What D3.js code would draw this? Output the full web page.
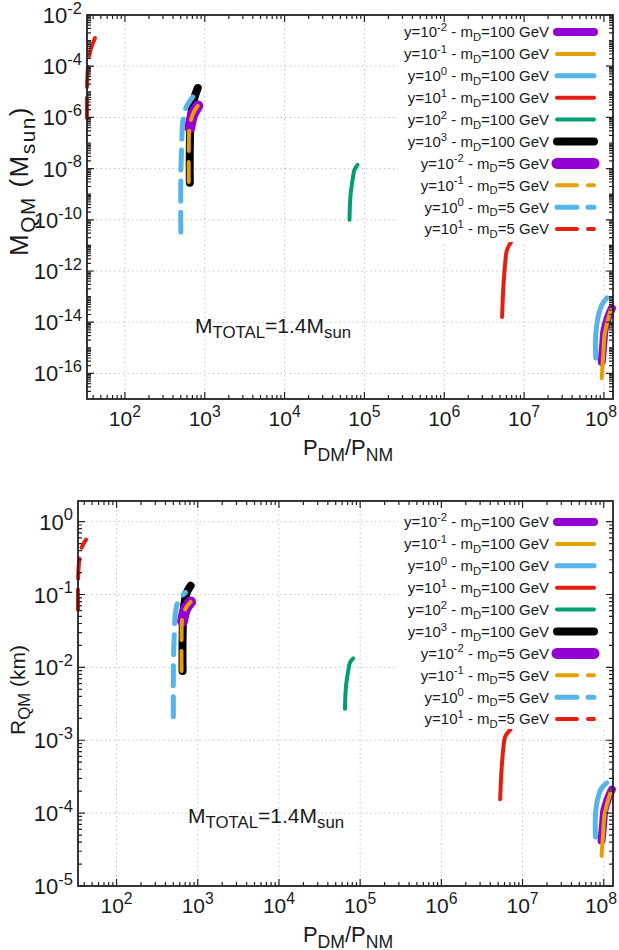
<!DOCTYPE html>
<html>
<head>
<meta charset="utf-8">
<script src="https://cdn.jsdelivr.net/npm/d3@7"></script>
<style>
  body { margin: 0; background: #fff; }
  svg { display: block; font-family: "Liberation Sans", Arial, sans-serif; }
</style>
</head>
<body>
<div id="chart"></div>
<script>
// ---- data (P_DM/P_NM, M_QM in M_sun, R_QM in km), points from bottom to top of each curve ----

// y=1e-2, mD=100 GeV
const p_ym2_100 = [9.4e7, 9.8e7, 1.02e8, 1.12e8, 1.26e8];
const m_ym2_100 = [2.8e-16, 1.3e-15, 5.0e-15, 1.45e-14, 3.5e-14];
const r_ym2_100 = [4.2e-5, 6.9e-5, 1.1e-4, 1.55e-4, 2.1e-4];
// y=1e-1, mD=100 GeV
const p_ym1_100 = [9.4e7, 9.8e7, 1.02e8, 1.12e8, 1.22e8];
const m_ym1_100 = [6.6e-17, 5.2e-16, 3.2e-15, 1.23e-14, 3.0e-14];
const r_ym1_100 = [2.6e-5, 5.1e-5, 9.3e-5, 1.45e-4, 1.95e-4];
// y=1e0, mD=100 GeV
const p_y0_100 = [7.9e7, 7.9e7, 8.4e7, 9.4e7, 1.09e8];
const m_y0_100 = [4.0e-16, 3.2e-15, 1.45e-14, 4.7e-14, 8.9e-14];
const r_y0_100 = [4.7e-5, 9.3e-5, 1.55e-4, 2.2e-4, 2.6e-4];
// y=1e1, mD=100 GeV
const p_y1_100 = [5.3e6, 5.5e6, 5.8e6, 6.1e6, 7.1e6];
const m_y1_100 = [1.6e-14, 2.3e-13, 2.0e-12, 6.6e-12, 1.6e-11];
const r_y1_100 = [1.55e-4, 3.8e-4, 7.8e-4, 1.12e-3, 1.4e-3];
// y=1e2, mD=100 GeV
const p_y2_100 = [6.5e4, 6.7e4, 7.1e4, 7.5e4, 8.2e4];
const m_y2_100 = [1.0e-10, 9.3e-10, 3.5e-9, 8.9e-9, 1.4e-8];
const r_y2_100 = [2.7e-3, 5.6e-3, 8.7e-3, 1.17e-2, 1.33e-2];
// y=1e3, mD=100 GeV
const p_y3_100 = [650, 650, 668, 729, 817];
const m_y3_100 = [2.8e-9, 5.4e-8, 7.9e-7, 4.8e-6, 1.4e-5];
const r_y3_100 = [8.9e-3, 2.4e-2, 5.9e-2, 0.105, 0.132];
// y=1e-2, mD=5 GeV
const p_ym2_5 = [650, 708, 817];
const m_ym2_5 = [3.9e-7, 1.26e-6, 2.8e-6];
const r_ym2_5 = [4.3e-2, 6.3e-2, 7.9e-2];
// y=1e-1, mD=5 GeV
const p_ym1_5 = [631, 631, 650, 729, 817];
const m_ym1_5 = [3.0e-9, 5.4e-8, 5.0e-7, 1.6e-6, 2.8e-6];
const r_ym1_5 = [8.9e-3, 2.4e-2, 5.0e-2, 6.8e-2, 7.9e-2];
// y=1e0, mD=5 GeV
const p_y0_5 = [501, 501, 516, 531, 579, 708];
const m_y0_5 = [3.3e-11, 3.5e-9, 1.3e-7, 6.6e-7, 2.3e-6, 6.3e-6];
const r_y0_5 = [2.1e-3, 1.0e-2, 3.3e-2, 5.6e-2, 8.3e-2, 0.107];
// y=1e1, mD=5 GeV
const p_y1_5 = [33.5, 33.5, 34.5, 36.5, 39.8, 42.2];
const m_y1_5 = [9.5e-7, 1.2e-5, 9.3e-5, 3.5e-4, 8.1e-4, 1.26e-3];
const r_y1_5 = [6.2e-2, 0.141, 0.275, 0.417, 0.513, 0.566];

// legend labels
const yExponents = ["-2", "-1", "0", "1", "2", "3", "-2", "-1", "0", "1"];
const mDValues = ["100", "100", "100", "100", "100", "100", "5", "5", "5", "5"];

// tick values
const xTickValues = [1e2, 1e3, 1e4, 1e5, 1e6, 1e7, 1e8];
const massTickValues = [1e-2, 1e-4, 1e-6, 1e-8, 1e-10, 1e-12, 1e-14, 1e-16];
const radiusTickValues = [1e0, 1e-1, 1e-2, 1e-3, 1e-4, 1e-5];

// styles
const colors = ["#9400d3", "#e69f00", "#56b4e9", "#e51e10", "#009e73", "#000000",
                "#9400d3", "#e69f00", "#56b4e9", "#e51e10"];
const widths = [8, 4, 5, 4, 4, 8, 11, 4, 5, 4];
const dashed = [false, false, false, false, false, false, false, true, true, true];

const pArrays = [p_ym2_100, p_ym1_100, p_y0_100, p_y1_100, p_y2_100, p_y3_100, p_ym2_5, p_ym1_5, p_y0_5, p_y1_5];
const mArrays = [m_ym2_100, m_ym1_100, m_y0_100, m_y1_100, m_y2_100, m_y3_100, m_ym2_5, m_ym1_5, m_y0_5, m_y1_5];
const rArrays = [r_ym2_100, r_ym1_100, r_y0_100, r_y1_100, r_y2_100, r_y3_100, r_ym2_5, r_ym1_5, r_y0_5, r_y1_5];

// write text with super/subscripts: parts = [[string, mode]], mode 1 = sup, -1 = sub
function richText(sel, parts, size, subScale) {
    var shift = 0;
    parts.forEach(function (p) {
        var target = p[1] === 1 ? -0.42 * size : p[1] === -1 ? 0.25 * size : 0;
        sel.append("tspan")
            .attr("dy", target - shift)
            .attr("font-size", p[1] === 0 ? size : size * subScale)
            .text(p[0]);
        shift = target;
    });
}

function drawPanel(svg, cfg) {
    var x = d3.scaleLog().domain([33.5, 1.3e8]).range([cfg.left, cfg.right]);
    var y = d3.scaleLog().domain(cfg.yDomain).range([cfg.bottom, cfg.top]);

    var g = svg.append("g");

    // grid
    g.selectAll(".gx").data(xTickValues).join("line")
        .attr("x1", d => x(d)).attr("x2", d => x(d))
        .attr("y1", cfg.top).attr("y2", cfg.bottom)
        .attr("stroke", "#c4c4c4").attr("stroke-dasharray", "1.5,3");
    g.selectAll(".gy").data(cfg.yTicks.filter(d => y(d) > cfg.top + 1 && y(d) < cfg.bottom - 1)).join("line")
        .attr("x1", cfg.left).attr("x2", cfg.right)
        .attr("y1", d => y(d)).attr("y2", d => y(d))
        .attr("stroke", "#c4c4c4").attr("stroke-dasharray", "1.5,3");

    // curves
    var vals = cfg.key === "m" ? mArrays : rArrays;
    var line = d3.line()
        .x(d => x(d[0])).y(d => y(d[1]))
        .curve(d3.curveCatmullRom.alpha(0.5));
    pArrays.forEach(function (ps, i) {
        var pts = ps.map((p, j) => [p, vals[i][j]]);
        g.append("path")
            .attr("d", line(pts))
            .attr("fill", "none")
            .attr("stroke", colors[i])
            .attr("stroke-width", widths[i])
            .attr("stroke-linecap", "round")
            .attr("stroke-linejoin", "round")
            .attr("stroke-dasharray", dashed[i] ? "20,11" : null);
    });

    // opaque key
    g.append("rect")
        .attr("x", 398).attr("y", cfg.top)
        .attr("width", cfg.right - 398).attr("height", cfg.keyBottom - cfg.top)
        .attr("fill", "#fff");
    yExponents.forEach(function (e, i) {
        var ry = cfg.keyTop + i * 21.9;
        var t = g.append("text")
            .attr("x", 549).attr("y", ry + 5.3)
            .attr("text-anchor", "end")
            .attr("fill", "#1a1a1a");
        richText(t, [["y=10", 0], [e, 1], [" - m", 0], ["D", -1], ["=" + mDValues[i] + " GeV", 0]], 15, 0.75);
        g.append("line")
            .attr("x1", 557).attr("x2", 594)
            .attr("y1", ry).attr("y2", ry)
            .attr("stroke", colors[i])
            .attr("stroke-width", widths[i])
            .attr("stroke-linecap", "round")
            .attr("stroke-dasharray", dashed[i] ? "20,11" : null);
    });

    // ticks (inward, mirrored)
    var xMinor = [];
    for (var k = 1; k <= 8; k++) for (var m = 2; m <= 9; m++) xMinor.push(m * Math.pow(10, k));
    xMinor = xMinor.filter(d => x(d) > cfg.left && x(d) < cfg.right);
    var yMinor = [];
    for (var k2 = -17; k2 <= 0; k2++) for (var m2 = (cfg.key === "m" && k2 % 2 !== 0 ? 1 : 2); m2 <= 9; m2++)
        yMinor.push(m2 * Math.pow(10, k2));
    yMinor = yMinor.filter(d => y(d) > cfg.top && y(d) < cfg.bottom);

    var tk = g.append("g").attr("stroke", "#222").attr("stroke-width", 1.2);
    [[xTickValues, 7], [xMinor, 4]].forEach(function (s) {
        tk.selectAll(null).data(s[0]).join("path")
            .attr("d", d => "M" + x(d) + "," + cfg.bottom + "v" + (-s[1]) +
                "M" + x(d) + "," + cfg.top + "v" + s[1]);
    });
    [[cfg.yTicks, 7], [yMinor, 4]].forEach(function (s) {
        tk.selectAll(null).data(s[0]).join("path")
            .attr("d", d => "M" + cfg.left + "," + y(d) + "h" + s[1] +
                "M" + cfg.right + "," + y(d) + "h" + (-s[1]));
    });

    // frame
    g.append("rect")
        .attr("x", cfg.left).attr("y", cfg.top)
        .attr("width", cfg.right - cfg.left).attr("height", cfg.bottom - cfg.top)
        .attr("fill", "none").attr("stroke", "#222").attr("stroke-width", 1.8);

    // tick labels
    xTickValues.forEach(function (d) {
        var t = g.append("text")
            .attr("x", Math.min(x(d), 601)).attr("y", cfg.bottom + 27)
            .attr("text-anchor", "middle").attr("fill", "#1a1a1a");
        richText(t, [["10", 0], [String(Math.round(Math.log10(d))), 1]], 21, 0.75);
    });
    cfg.yTicks.forEach(function (d) {
        var t = g.append("text")
            .attr("x", cfg.left - 5).attr("y", y(d) + 8)
            .attr("text-anchor", "end").attr("fill", "#1a1a1a");
        richText(t, [["10", 0], [String(Math.round(Math.log10(d))), 1]], 22, 0.75);
    });

    // axis titles
    var xt = g.append("text")
        .attr("x", 348).attr("y", cfg.bottom + 56)
        .attr("text-anchor", "middle").attr("fill", "#1a1a1a");
    richText(xt, [["P", 0], ["DM", -1], ["/P", 0], ["NM", -1]], 22, 0.8);

    var yt = g.append("text")
        .attr("transform", "translate(" + cfg.yTitleX + "," + cfg.yTitleY + ") rotate(-90)")
        .attr("text-anchor", "middle").attr("fill", "#1a1a1a")
        .attr("letter-spacing", cfg.yTitleSpacing);
    richText(yt, cfg.yTitle, cfg.yTitleSize, 0.8);

    // annotation
    var an = g.append("text")
        .attr("x", cfg.noteX).attr("y", cfg.noteY).attr("fill", "#1a1a1a");
    richText(an, [["M", 0], ["TOTAL", -1], ["=1.4M", 0], ["sun", -1]], 21, 0.8);
}

function main() {
    var svg = d3.select("#chart").append("svg")
        .attr("width", 619)
        .attr("height", 950);

    drawPanel(svg, {
        left: 87, right: 613, top: 15, bottom: 399,
        yDomain: [1e-17, 1e-2], yTicks: massTickValues, key: "m",
        keyTop: 32, keyBottom: 242,
        yTitle: [["M", 0], ["QM", -1], [" (M", 0], ["sun", -1], [")", 0]],
        yTitleSize: 26, yTitleSpacing: 1.5, yTitleX: 28, yTitleY: 181,
        noteX: 195, noteY: 333
    });

    drawPanel(svg, {
        left: 78, right: 613, top: 501, bottom: 886,
        yDomain: [1e-5, 1.92], yTicks: radiusTickValues, key: "r",
        keyTop: 522, keyBottom: 729,
        yTitle: [["R", 0], ["QM", -1], [" (km)", 0]],
        yTitleSize: 21, yTitleSpacing: 0, yTitleX: 25, yTitleY: 690,
        noteX: 188, noteY: 823
    });
}

main()
</script>
</body>
</html>
